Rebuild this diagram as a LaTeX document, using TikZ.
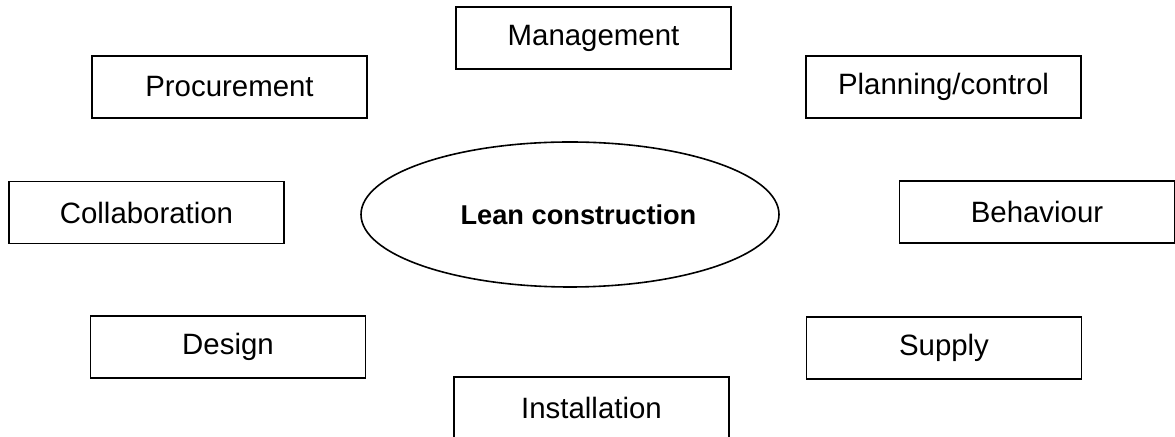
\documentclass[tikz,border=0pt]{standalone}
\usepackage{fontspec}
\setmainfont{Liberation Sans}
\usetikzlibrary{shapes.geometric}

\tikzset{
  topicbox/.style={draw, line width=0.75pt, minimum width=137.5pt, minimum height=31pt, inner sep=0pt, font=\fontsize{14.7}{17}\selectfont},
  coreoval/.style={draw, ellipse, line width=0.8pt, minimum width=209pt, minimum height=72.5pt, inner sep=0pt, font=\fontsize{13.6}{16}\selectfont\bfseries}
}

\begin{document}
\begin{tikzpicture}[x=0.5pt, y=-0.5pt]
\useasboundingbox (0,0) rectangle (1175,437);

% Centre
\node[coreoval] (lean) at (570,214.5) {\hspace*{8.5pt}Lean construction};

% Surrounding topics
\node[topicbox] (management) at (593.5,38) {Management};
\node[topicbox] (procurement) at (229.5,87) {Procurement};
\node[topicbox] (planning) at (943.5,87) {Planning/control};
\node[topicbox] (collaboration) at (146.5,212.5) {Collaboration};
\node[topicbox] (behaviour) at (1037,212) {Behaviour};
\node[topicbox] (design) at (228,347) {Design};
\node[topicbox] (supply) at (944,348) {Supply};
\node[topicbox] (installation) at (591.5,408) {Installation};

\end{tikzpicture}
\end{document}
